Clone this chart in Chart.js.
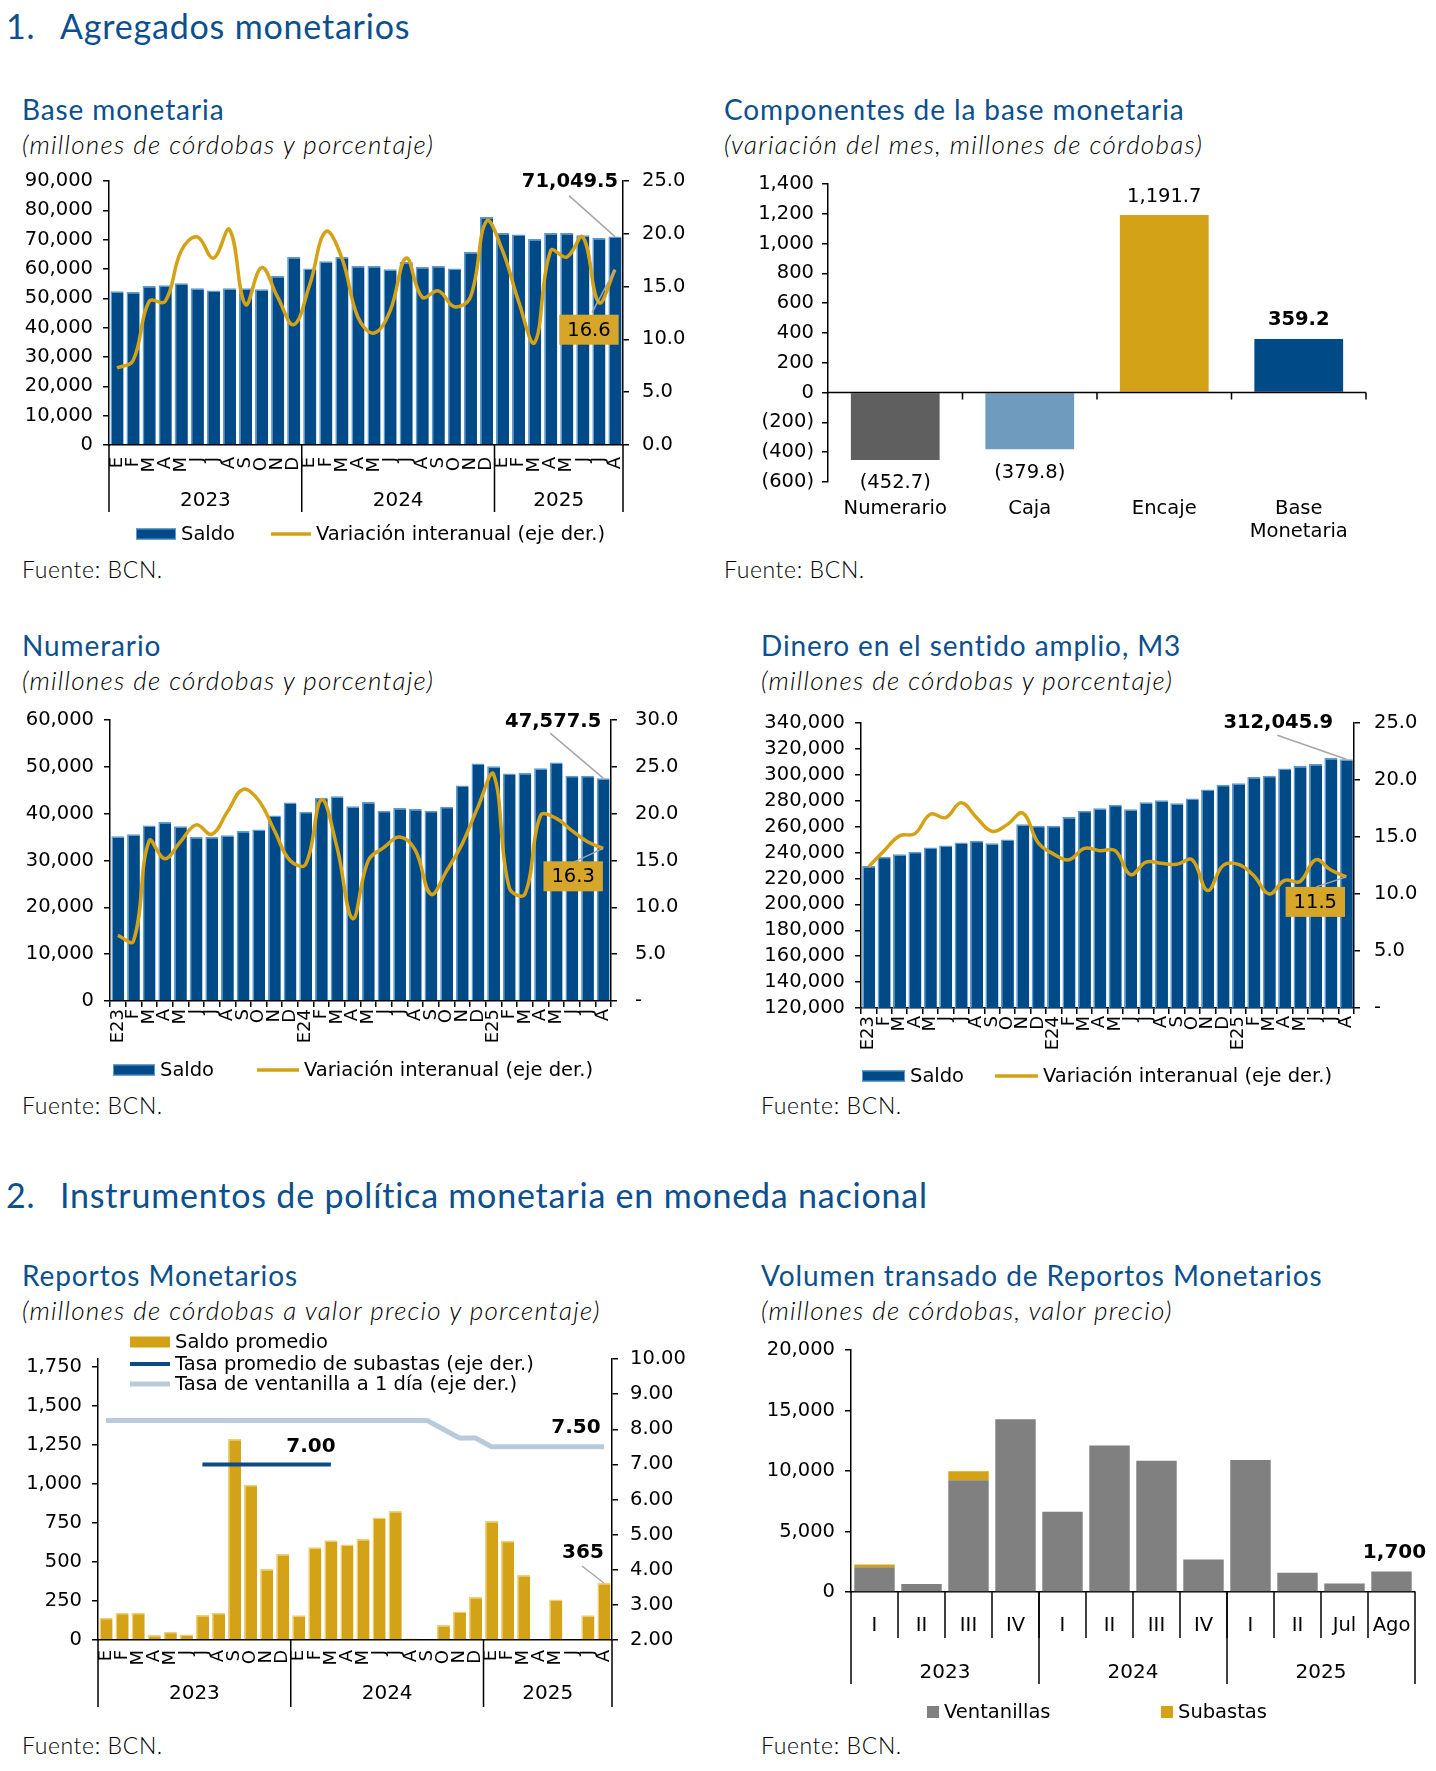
<!DOCTYPE html>
<html lang="es">
<head>
<meta charset="utf-8">
<title>Agregados monetarios</title>
<script src="https://cdn.jsdelivr.net/npm/chart.js@4.4.1/dist/chart.umd.min.js"></script>
<style>
  html, body { margin: 0; padding: 0; background: #fff; }
  body { position: relative; width: 1436px; height: 1771px; overflow: hidden; font-family: Lato, "Open Sans", sans-serif; }
  .t { position: absolute; white-space: nowrap; line-height: 1; }
  .sec { font-size: 34px; color: #0B4F8E; letter-spacing: 0.8px; }
  .ttl { font-size: 28px; color: #0B4F8E; letter-spacing: 0.9px; }
  .sub { font-size: 26px; font-style: italic; font-weight: 300; color: #000; letter-spacing: 1.27px; }
  .src { font-size: 23px; font-weight: 300; color: #000; letter-spacing: 0.6px; }
  canvas { position: absolute; }
</style>
</head>
<body>
<div class="t sec" style="left:6px;top:9px">1.</div>
<div class="t sec" style="left:60px;top:9px">Agregados monetarios</div>

<div class="t ttl" style="left:22px;top:95px">Base monetaria</div>
<div class="t sub" style="left:22px;top:131px">(millones de córdobas y porcentaje)</div>
<div class="t src" style="left:22px;top:558px">Fuente: BCN.</div>

<div class="t ttl" style="left:724px;top:95px">Componentes de la base monetaria</div>
<div class="t sub" style="left:724px;top:131px">(variación del mes, millones de córdobas)</div>
<div class="t src" style="left:724px;top:558px">Fuente: BCN.</div>

<div class="t ttl" style="left:22px;top:631px">Numerario</div>
<div class="t sub" style="left:22px;top:667px">(millones de córdobas y porcentaje)</div>
<div class="t src" style="left:22px;top:1094px">Fuente: BCN.</div>

<div class="t ttl" style="left:761px;top:631px">Dinero en el sentido amplio, M3</div>
<div class="t sub" style="left:761px;top:667px">(millones de córdobas y porcentaje)</div>
<div class="t src" style="left:761px;top:1094px">Fuente: BCN.</div>

<div class="t sec" style="left:6px;top:1178px">2.</div>
<div class="t sec" style="left:60px;top:1178px">Instrumentos de política monetaria en moneda nacional</div>

<div class="t ttl" style="left:22px;top:1261px">Reportos Monetarios</div>
<div class="t sub" style="left:22px;top:1297px">(millones de córdobas a valor precio y porcentaje)</div>
<div class="t src" style="left:22px;top:1734px">Fuente: BCN.</div>

<div class="t ttl" style="left:761px;top:1261px">Volumen transado de Reportos Monetarios</div>
<div class="t sub" style="left:761px;top:1297px">(millones de córdobas, valor precio)</div>
<div class="t src" style="left:761px;top:1734px">Fuente: BCN.</div>

<canvas id="cA" width="690" height="390" style="left:15px;top:165px"></canvas>
<canvas id="cB" width="680" height="390" style="left:745px;top:165px"></canvas>
<canvas id="cC" width="680" height="395" style="left:15px;top:700px"></canvas>
<canvas id="cD" width="680" height="395" style="left:755px;top:703px"></canvas>
<canvas id="cE" width="680" height="400" style="left:15px;top:1320px"></canvas>
<canvas id="cF" width="675" height="395" style="left:755px;top:1330px"></canvas>

<script>
// ---- datos ----
const mesesLetra = ["E","F","M","A","M","J","J","A","S","O","N","D",
                    "E","F","M","A","M","J","J","A","S","O","N","D",
                    "E","F","M","A","M","J","J","A"];
const mesesAnio = ["E23","F","M","A","M","J","J","A","S","O","N","D",
                   "E24","F","M","A","M","J","J","A","S","O","N","D",
                   "E25","F","M","A","M","J","J","A"];
const anios = ["2023", "2024", "2025"];
const mesesPorAnio = [12, 12, 8];

const baseSaldo = [52400,52200,54200,54500,55100,53400,52700,53400,53400,53100,57600,64100,
                   60200,62600,64100,61000,61000,59900,62400,60700,61000,60200,65800,77700,
                   72300,71800,70200,72300,72300,71500,70600,71049.5];
const baseVar = [7.3,8.0,13.6,13.6,18.4,19.7,17.7,20.4,13.3,16.8,14.0,11.4,
                 15.2,20.2,17.7,12.1,10.6,12.7,17.7,14.0,14.6,13.1,14.0,21.2,
                 18.4,13.6,9.7,18.4,17.8,19.7,13.5,16.6];

const compCat = ["Numerario", "Caja", "Encaje", ["Base", "Monetaria"]];
const compVal = [-452.7, -379.8, 1191.7, 359.2];
const compColor = ["#5F5F5F", "#6F9BBF", "#D4A216", "#004B87"];

const numSaldo = [35200,35600,37500,38200,37300,35000,35000,35400,36300,36600,39600,42400,
                  40400,43400,43700,41600,42500,40600,41200,41000,40600,41500,46000,50700,
                  50100,48600,48700,49700,50900,48100,48100,47577.5];
const numVar = [7.0,6.4,17.1,15.2,17.0,18.8,17.8,20.2,22.6,21.4,18.2,15.0,
                14.6,21.5,16.4,8.8,15.0,16.4,17.5,16.1,11.4,13.9,16.8,20.7,
                24.2,12.1,11.4,19.8,19.5,18.2,17.0,16.3];

const m3Saldo = [229600,236800,238600,240700,243800,245400,247700,249200,247200,250000,261900,260600,
                 260600,267500,272200,274200,276800,273500,278900,280400,278100,281700,288700,292300,
                 293400,298400,299200,304800,306800,308300,313000,312045.9];
const m3Var = [12.4,13.8,15.1,15.3,17.0,16.7,18.0,16.7,15.5,16.1,17.1,14.5,
               13.5,13.0,14.0,13.8,13.8,11.7,12.8,12.7,12.6,13.0,10.3,12.5,
               12.6,11.6,10.0,11.2,11.1,13.0,12.1,11.5];

const repSaldo = [143,175,175,32,53,36,160,175,1288,994,455,551,
                  158,594,639,611,647,784,827,10,0,96,182,276,
                  763,635,417,0,259,0,158,365];
const repSubasta = [null,null,null,null,null,null,7,7,7,7,7,7,
                    7,7,7,null,null,null,null,null,null,null,null,null,
                    null,null,null,null,null,null,null,null];
const repVentanilla = [8.25,8.25,8.25,8.25,8.25,8.25,8.25,8.25,8.25,8.25,8.25,8.25,
                       8.25,8.25,8.25,8.25,8.25,8.25,8.25,8.25,8.25,8.0,7.75,7.75,
                       7.5,7.5,7.5,7.5,7.5,7.5,7.5,7.5];

const volCat = ["I","II","III","IV","I","II","III","IV","I","II","Jul","Ago"];
const volPorAnio = [4, 4, 4];
const volVent = [2050,660,9230,14270,6630,12110,10850,2680,10900,1590,710,1700];
const volSub = [220,0,740,0,0,0,0,0,0,0,0,0];

// ---- estilos ----
const BLUE = "#004B87", EDGE = "#5B9BD5", GOLD = "#D4A216", GOLD_EDGE = "#EDCF74";
const FONT = '"DejaVu Sans", Verdana, sans-serif';
const FS = 19.5;
Chart.defaults.font.family = FONT;
Chart.defaults.font.size = FS;
Chart.defaults.color = "#000";
Chart.defaults.animation = false;
Chart.defaults.plugins.legend.display = false;
Chart.defaults.plugins.tooltip.enabled = false;

const fmt = (v, d) => Number(v).toLocaleString("en-US", { minimumFractionDigits: d, maximumFractionDigits: d });

// notas, leyendas y filas de años por canvas
const NOTES = {};
const KEYS = {};
const YEARS = {};
const ZERO = {};

const notesPlugin = {
  id: "notas",
  afterDatasetsDraw(chart) {
    const items = NOTES[chart.canvas.id];
    if (!items) return;
    const ctx = chart.ctx;
    items.forEach(n => {
      const el = chart.getDatasetMeta(n.ds).data[n.i];
      const tx = el.x + n.dx, ty = el.y + n.dy;
      ctx.save();
      ctx.font = (n.bold ? "bold " : "") + (n.size || FS) + "px " + FONT;
      ctx.textAlign = "center";
      ctx.textBaseline = "middle";
      if (n.lead) {
        ctx.strokeStyle = "#A6A6A6";
        ctx.lineWidth = 1.5;
        ctx.beginPath();
        ctx.moveTo(tx + n.lead[0], ty + n.lead[1]);
        ctx.lineTo(el.x, el.y);
        ctx.stroke();
      }
      if (n.box) {
        const w = ctx.measureText(n.text).width + 16, h = 30;
        ctx.fillStyle = "#D5A62A";
        ctx.fillRect(tx - w / 2, ty - h / 2, w, h);
      }
      ctx.fillStyle = "#000";
      ctx.fillText(n.text, tx, ty + 1);
      ctx.restore();
    });
  }
};

const keyPlugin = {
  id: "claves",
  afterDraw(chart) {
    const k = KEYS[chart.canvas.id];
    if (!k) return;
    const ctx = chart.ctx, ca = chart.chartArea;
    ctx.save();
    ctx.font = FS + "px " + FONT;
    ctx.textBaseline = "middle";
    ctx.textAlign = "left";
    k.items.forEach(it => {
      const ds = chart.data.datasets[it.ds];
      const x = ca.left + it.x, y = (k.fromTop ? ca.top : ca.bottom) + it.y;
      const w = it.w || k.w, h = it.h || k.h;
      if (ds.type === "line") {
        ctx.strokeStyle = ds.borderColor;
        ctx.lineWidth = ds.borderWidth;
        ctx.beginPath();
        ctx.moveTo(x, y);
        ctx.lineTo(x + w, y);
        ctx.stroke();
      } else {
        ctx.fillStyle = ds.backgroundColor;
        ctx.fillRect(x, y - h / 2, w, h);
        if (ds.keyEdge) {
          ctx.strokeStyle = ds.keyEdge;
          ctx.lineWidth = 1;
          ctx.strokeRect(x + 0.5, y - h / 2 + 0.5, w - 1, h - 1);
        }
      }
      ctx.fillStyle = "#000";
      ctx.fillText(ds.label, x + w + 5, y + 1);
    });
    ctx.restore();
  }
};

const yearPlugin = {
  id: "anios",
  afterDraw(chart) {
    const o = YEARS[chart.canvas.id];
    if (!o) return;
    const sx = chart.scales.x, ctx = chart.ctx, n = chart.data.labels.length;
    const edge = i => i <= 0 ? sx.left : i >= n ? sx.right
      : (sx.getPixelForValue(i - 1) + sx.getPixelForValue(i)) / 2;
    const line = (x, y1, y2) => { ctx.beginPath(); ctx.moveTo(x, y1); ctx.lineTo(x, y2); ctx.stroke(); };
    ctx.save();
    ctx.strokeStyle = "#000";
    ctx.lineWidth = 1.5;
    ctx.fillStyle = "#000";
    ctx.font = "20px " + FONT;
    ctx.textAlign = "center";
    ctx.textBaseline = "middle";
    if (o.minor) for (let i = 1; i < n; i++) line(edge(i), sx.top, sx.top + o.minor);
    let start = 0;
    o.labels.forEach((lab, k) => {
      const a = edge(start), b = edge(start + o.counts[k]);
      line(a, sx.top, sx.top + o.len);
      ctx.fillText(lab, (a + b) / 2, sx.top + o.textY);
      start += o.counts[k];
    });
    line(edge(n), sx.top, sx.top + o.len);
    ctx.restore();
  }
};

const zeroPlugin = {
  id: "cero",
  afterDatasetsDraw(chart) {
    if (!ZERO[chart.canvas.id]) return;
    const sx = chart.scales.x, y0 = chart.scales.y.getPixelForValue(0), ctx = chart.ctx;
    const n = chart.data.labels.length;
    ctx.save();
    ctx.strokeStyle = "#000";
    ctx.lineWidth = 1.5;
    ctx.beginPath();
    ctx.moveTo(sx.left, y0);
    ctx.lineTo(sx.right, y0);
    for (let i = 1; i <= n; i++) {
      const x = i >= n ? sx.right : (sx.getPixelForValue(i - 1) + sx.getPixelForValue(i)) / 2;
      ctx.moveTo(x, y0);
      ctx.lineTo(x, y0 + 7);
    }
    ctx.stroke();
    ctx.restore();
  }
};

Chart.register(notesPlugin, keyPlugin, yearPlugin, zeroPlugin);

function valueAxis(o) {
  return {
    position: o.pos, min: o.min, max: o.max, stacked: !!o.stacked,
    ticks: { stepSize: o.step, autoSkip: false, padding: o.pad, callback: o.cb },
    grid: { drawOnChartArea: false, drawTicks: true, tickLength: 6, color: "#000", lineWidth: 1.5 },
    border: { color: "#000", width: 1.5 },
    // marcas cada "step" desde el mínimo, sin añadir el máximo si no cae en el paso
    afterBuildTicks: s => {
      const t = [];
      for (let k = 0; o.min + k * o.step <= o.max + 1e-9; k++) t.push({ value: o.min + k * o.step });
      s.ticks = t;
    },
    afterFit: s => { s.width = o.w; s.paddingTop = 0; s.paddingBottom = 0; }
  };
}

function catAxis(o) {
  return {
    stacked: !!o.stacked,
    grid: { display: true, drawOnChartArea: false, drawTicks: !!o.ticks, tickLength: 6, color: "#000", lineWidth: 1.5 },
    border: { display: o.border !== false, color: "#000", width: 1.5 },
    ticks: { autoSkip: false, minRotation: o.rot, maxRotation: o.rot, padding: o.pad, font: { size: o.size || 18 } },
    afterFit: s => { s.height = o.h; s.paddingLeft = 0; s.paddingRight = 0; }
  };
}

const num0 = v => fmt(v, 0);
const num1 = v => fmt(v, 1);
const num1dash = v => v === 0 ? "-" : fmt(v, 1);

function combo(id, p) {
  return new Chart(document.getElementById(id), {
    type: "bar",
    data: {
      labels: p.labels,
      datasets: [
        { label: "Saldo", data: p.saldo, yAxisID: "y", order: 1,
          backgroundColor: BLUE, borderColor: EDGE, keyEdge: EDGE,
          borderWidth: { top: 1.5, left: 1.5, right: 0, bottom: 0 },
          barPercentage: p.bar, categoryPercentage: 1 },
        { type: "line", label: "Variación interanual (eje der.)", data: p.variacion, yAxisID: "y2", order: 0,
          borderColor: GOLD, backgroundColor: GOLD, borderWidth: 3.5, pointRadius: 0, tension: 0.4, fill: false }
      ]
    },
    options: {
      responsive: false,
      layout: { padding: { top: p.top, right: 0, bottom: 0, left: 0 } },
      scales: {
        x: catAxis({ rot: 90, pad: p.padX, h: p.xH, ticks: p.ticks }),
        y: valueAxis(Object.assign({ pos: "left", pad: 10, cb: num0 }, p.y)),
        y2: valueAxis(Object.assign({ pos: "right", pad: 13, cb: p.rightCb || num1 }, p.y2))
      }
    }
  });
}

// ---- Base monetaria ----
NOTES.cA = [
  { ds: 0, i: 31, dx: -45, dy: -56, bold: true, text: fmt(baseSaldo[31], 1), lead: [-1, 15] },
  { ds: 1, i: 31, dx: -26, dy: 60, box: true, text: fmt(baseVar[31], 1), lead: [3, -17] }
];
KEYS.cA = { w: 40, h: 11, items: [{ ds: 0, x: 27, y: 89 }, { ds: 1, x: 162, y: 89 }] };
YEARS.cA = { labels: anios, counts: mesesPorAnio, len: 67, textY: 56 };
combo("cA", {
  labels: mesesLetra, saldo: baseSaldo, variacion: baseVar, bar: 0.82,
  top: 16, xH: 110, padX: 12, ticks: false,
  y: { min: 0, max: 90000, step: 10000, w: 94 },
  y2: { min: 0, max: 25, step: 5, w: 82 }
});

// ---- Componentes de la base monetaria ----
NOTES.cB = [
  { ds: 0, i: 0, dx: 0, dy: 22, text: "(" + fmt(-compVal[0], 1) + ")" },
  { ds: 0, i: 1, dx: 0, dy: 23, text: "(" + fmt(-compVal[1], 1) + ")" },
  { ds: 0, i: 2, dx: 0, dy: -19, text: fmt(compVal[2], 1) },
  { ds: 0, i: 3, dx: 0, dy: -20, bold: true, text: fmt(compVal[3], 1) }
];
ZERO.cB = true;
new Chart(document.getElementById("cB"), {
  type: "bar",
  data: {
    labels: compCat,
    datasets: [{ label: "Variación", data: compVal, backgroundColor: compColor,
                 barPercentage: 0.66, categoryPercentage: 1 }]
  },
  options: {
    responsive: false,
    layout: { padding: { top: 19, right: 59, bottom: 0, left: 0 } },
    scales: {
      x: {
        grid: { display: false, drawTicks: false },
        border: { display: false },
        ticks: { autoSkip: false, maxRotation: 0, padding: 15, font: { size: FS } },
        afterFit: s => { s.height = 73; s.paddingLeft = 0; s.paddingRight = 0; }
      },
      y: valueAxis({ pos: "left", min: -600, max: 1400, step: 200, w: 83, pad: 8,
                     cb: v => v < 0 ? "(" + fmt(-v, 0) + ")" : fmt(v, 0) })
    }
  }
});

// ---- Numerario ----
NOTES.cC = [
  { ds: 0, i: 31, dx: -50, dy: -57, bold: true, text: fmt(numSaldo[31], 1), lead: [-3, 12] },
  { ds: 1, i: 31, dx: -30, dy: 28, box: true, text: fmt(numVar[31], 1), lead: [0, -14] }
];
KEYS.cC = { w: 42, h: 11, items: [{ ds: 0, x: 3, y: 69 }, { ds: 1, x: 147, y: 69 }] };
combo("cC", {
  labels: mesesAnio, saldo: numSaldo, variacion: numVar, bar: 0.82,
  top: 20, xH: 94, padX: 2, ticks: true, rightCb: num1dash,
  y: { min: 0, max: 60000, step: 10000, w: 95 },
  y2: { min: 0, max: 30, step: 5, w: 84, pad: 18 }
});

// ---- M3 ----
NOTES.cD = [
  { ds: 0, i: 31, dx: -68, dy: -37, bold: true, text: fmt(m3Saldo[31], 1), lead: [-1, 13] },
  { ds: 1, i: 31, dx: -31, dy: 25, box: true, text: fmt(m3Var[31], 1), lead: [1, -15] }
];
KEYS.cD = { w: 43, h: 11, items: [{ ds: 0, x: 1, y: 68 }, { ds: 1, x: 134, y: 68 }] };
combo("cD", {
  labels: mesesAnio, saldo: m3Saldo, variacion: m3Var, bar: 0.85,
  top: 20, xH: 90, padX: 2, ticks: true, rightCb: num1dash,
  y: { min: 120000, max: 340000, step: 20000, w: 106 },
  y2: { min: 0, max: 25, step: 5, w: 81, pad: 14 }
});

// ---- Reportos Monetarios ----
NOTES.cE = [
  { ds: 1, i: 14, dx: -20, dy: -19, bold: true, size: 20, text: fmt(repSubasta[14], 2) },
  { ds: 2, i: 31, dx: -28, dy: -20, bold: true, size: 20, text: fmt(repVentanilla[31], 2) },
  { ds: 0, i: 31, dx: -21, dy: -31, bold: true, size: 20, text: fmt(repSaldo[31], 0), lead: [-1, 14] }
];
KEYS.cE = { w: 40, h: 11, fromTop: true, items: [
  { ds: 0, x: 32, y: -17 }, { ds: 1, x: 32, y: 5 }, { ds: 2, x: 32, y: 25 }
] };
YEARS.cE = { labels: anios, counts: mesesPorAnio, len: 67, textY: 54 };
new Chart(document.getElementById("cE"), {
  type: "bar",
  data: {
    labels: mesesLetra,
    datasets: [
      { label: "Saldo promedio", data: repSaldo, yAxisID: "y", order: 2,
        backgroundColor: GOLD, borderColor: GOLD_EDGE,
        borderWidth: { top: 1.5, left: 1.5, right: 0, bottom: 0 },
        barPercentage: 0.82, categoryPercentage: 1 },
      { type: "line", label: "Tasa promedio de subastas (eje der.)", data: repSubasta, yAxisID: "y2", order: 0,
        borderColor: "#0B4A84", backgroundColor: "#0B4A84", borderWidth: 4, pointRadius: 0, tension: 0 },
      { type: "line", label: "Tasa de ventanilla a 1 día (eje der.)", data: repVentanilla, yAxisID: "y2", order: 1,
        borderColor: "#B7CBDD", backgroundColor: "#B7CBDD", borderWidth: 5, pointRadius: 0, tension: 0 }
    ]
  },
  options: {
    responsive: false,
    layout: { padding: { top: 39, right: 0, bottom: 0, left: 0 } },
    scales: {
      x: catAxis({ rot: 90, pad: 10, h: 80, ticks: false }),
      y: valueAxis({ pos: "left", min: 0, max: 1800, step: 250, w: 83, pad: 10, cb: num0 }),
      y2: valueAxis({ pos: "right", min: 2, max: 10, step: 1, w: 83, pad: 12, cb: v => fmt(v, 2) })
    }
  }
});

// ---- Volumen transado ----
NOTES.cF = [
  { ds: 1, i: 11, dx: 3, dy: -20, bold: true, size: 20, text: fmt(volVent[11] + volSub[11], 0) }
];
KEYS.cF = { w: 12, h: 12, items: [{ ds: 0, x: 76, y: 120 }, { ds: 1, x: 310, y: 120 }] };
YEARS.cF = { labels: anios, counts: volPorAnio, len: 92, textY: 81, minor: 46 };
new Chart(document.getElementById("cF"), {
  type: "bar",
  data: {
    labels: volCat,
    datasets: [
      { label: "Ventanillas", data: volVent, backgroundColor: "#808080", barPercentage: 0.86, categoryPercentage: 1 },
      { label: "Subastas", data: volSub, backgroundColor: GOLD, barPercentage: 0.86, categoryPercentage: 1 }
    ]
  },
  options: {
    responsive: false,
    layout: { padding: { top: 20, right: 15, bottom: 0, left: 0 } },
    scales: {
      x: catAxis({ rot: 0, pad: 22, h: 133, ticks: false, size: FS, stacked: true }),
      y: valueAxis({ pos: "left", min: 0, max: 20000, step: 5000, w: 96, pad: 10, cb: num0, stacked: true })
    }
  }
});
</script>
</body>
</html>
